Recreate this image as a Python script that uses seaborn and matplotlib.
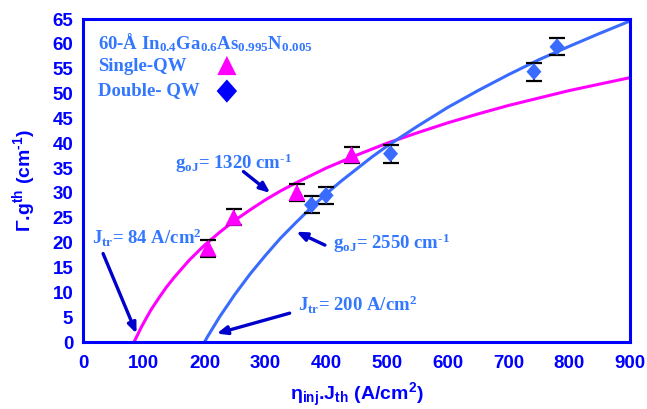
import numpy as np
import pandas as pd
import matplotlib
matplotlib.use("Agg")
import matplotlib.pyplot as plt
import seaborn as sns

# ---- data -------------------------------------------------------------
# fitted gain curves  Γ·g_th = Γ·g_oJ·ln(J/J_tr)
single_fit_j = [84, 88, 92, 96, 105, 112, 125, 137, 150, 175, 200, 225, 250,
                275, 300, 325, 350, 400, 450, 500, 550, 600, 650, 700, 750,
                800, 850, 900]
single_fit_g = [0.0, 1.0, 2.0, 3.0, 5.0, 6.5, 8.9, 11.0, 13.0, 16.5, 19.5,
                22.1, 24.5, 26.6, 28.6, 30.4, 32.0, 35.0, 37.6, 40.0, 42.1,
                44.1, 45.9, 47.6, 49.1, 50.6, 51.9, 53.2]

double_fit_j = [200, 205, 210, 215, 225, 235, 250, 275, 300, 325, 350, 375,
                400, 425, 450, 475, 500, 550, 600, 650, 700, 750, 800, 850, 900]
double_fit_g = [0.0, 1.1, 2.1, 3.1, 5.1, 6.9, 9.6, 13.7, 17.4, 20.9, 24.0,
                27.0, 29.8, 32.4, 34.8, 37.2, 39.4, 43.4, 47.2, 50.6, 53.8,
                56.8, 59.5, 62.1, 64.6]

# measured points with error bars
single_j = [206, 248, 352, 442]
single_g = [18.9, 25.1, 30.1, 37.7]
single_err = [1.7, 1.6, 1.7, 1.6]

double_j = [376, 400, 506, 742, 780]
double_g = [27.6, 29.5, 37.9, 54.4, 59.4]
double_err = [1.7, 1.75, 1.8, 1.8, 1.7]

x_ticks = list(range(0, 901, 100))
y_ticks = list(range(0, 66, 5))

# ---- style ------------------------------------------------------------
sns.set_style("white")
plt.rcParams["font.family"] = ["Liberation Sans", "DejaVu Sans"]
plt.rcParams["mathtext.default"] = "regular"

AX_BLUE = "#0000FF"
TXT_BLUE = "#3377FF"
LINE_BLUE = "#3A6BFF"
MAGENTA = "#FF00FF"
ARROW = "#0000CC"
HY = "\u2010"  # typographic hyphen for the "-1" exponents

fig = plt.figure(figsize=(6.47, 4.09), dpi=100)
ax = fig.add_axes([0.1283, 0.1638, 0.8454, 0.7897])

fit_single = pd.DataFrame({"J": single_fit_j, "g": single_fit_g})
fit_double = pd.DataFrame({"J": double_fit_j, "g": double_fit_g})
sns.lineplot(data=fit_single, x="J", y="g", ax=ax, color=MAGENTA, lw=2.2,
             sort=False, zorder=2)
sns.lineplot(data=fit_double, x="J", y="g", ax=ax, color=LINE_BLUE, lw=2.2,
             sort=False, zorder=2)

# error bars
ax.errorbar(single_j, single_g, yerr=single_err, fmt="none", ecolor="black",
            elinewidth=1.3, capsize=6, capthick=1.6, zorder=3)
ax.errorbar(double_j, double_g, yerr=double_err, fmt="none", ecolor="black",
            elinewidth=1.3, capsize=6, capthick=1.6, zorder=3)

diamond = [(0, 1), (0.88, 0), (0, -1), (-0.88, 0), (0, 1)]
pts_single = pd.DataFrame({"J": single_j, "g": single_g})
pts_double = pd.DataFrame({"J": double_j, "g": double_g})
sns.scatterplot(data=pts_single, x="J", y="g", ax=ax, marker="^", s=150,
                color=MAGENTA, edgecolor="none", zorder=4)
sns.scatterplot(data=pts_double, x="J", y="g", ax=ax, marker=diamond, s=150,
                color=LINE_BLUE, edgecolor="none", zorder=4)

# ---- axes ---------------------------------------------------------------
ax.set_xlim(0, 900)
ax.set_ylim(0, 65)
ax.set_xticks(x_ticks)
ax.set_yticks(y_ticks)
ax.set_xticklabels([str(v) for v in x_ticks])
ax.set_yticklabels([str(v) for v in y_ticks])
for sp in ax.spines.values():
    sp.set_color(AX_BLUE)
    sp.set_linewidth(2.2)
ax.tick_params(axis="both", direction="out", length=5, width=1.8,
               color=AX_BLUE, labelcolor=AX_BLUE, labelsize=13.5)
ax.tick_params(axis="x", pad=4)
ax.tick_params(axis="y", pad=2)
for lab in ax.get_xticklabels() + ax.get_yticklabels():
    lab.set_fontweight("bold")

ax.set_xlabel(r"η$_{inj}$.J$_{th}$ (A/cm$^{2}$)", fontsize=14,
              fontweight="bold", color=AX_BLUE)
ax.set_ylabel(r"Γ.g$^{th}$ (cm$^{" + HY + "1}$)", fontsize=14,
              fontweight="bold", color=AX_BLUE)
ax.xaxis.set_label_coords(0.5, -0.12)
ax.yaxis.set_label_coords(-0.082, 0.5)

# ---- legend block ---------------------------------------------------------
serif = ["Liberation Serif", "DejaVu Serif"]
ax.text(0.0275, 0.926, r"60-Å In$_{0.4}$Ga$_{0.6}$As$_{0.995}$N$_{0.005}$",
        transform=ax.transAxes, family=serif, fontsize=13.5, fontweight="bold",
        color=TXT_BLUE, va="center", ha="left")
ax.text(0.0275, 0.853, "Single-QW", transform=ax.transAxes, family=serif,
        fontsize=13.5, fontweight="bold", color=TXT_BLUE, va="center", ha="left")
ax.text(0.0275, 0.780, "Double- QW", transform=ax.transAxes, family=serif,
        fontsize=13.5, fontweight="bold", color=TXT_BLUE, va="center", ha="left")
ax.scatter([0.263], [0.856], transform=ax.transAxes, marker="^", s=190,
           color=MAGENTA, edgecolor="none", zorder=5, clip_on=False)
ax.scatter([0.263], [0.777], transform=ax.transAxes, marker=diamond, s=280,
           color=AX_BLUE, edgecolor="none", zorder=5, clip_on=False)

# ---- fit annotations -------------------------------------------------------
ann = dict(family=serif, fontsize=13.5, fontweight="bold", color=TXT_BLUE,
           va="center", ha="left")
arrow = dict(arrowstyle="-|>,head_length=0.6,head_width=0.25", color=ARROW,
             lw=2.4, shrinkA=0, shrinkB=0)

ax.text(151, 36.0, r"g$_{oJ}$= 1320 cm$^{" + HY + "1}$", **ann)
ax.annotate("", xy=(308, 30.0), xytext=(264, 34.3), arrowprops=arrow)

ax.text(14, 20.9, r"J$_{tr}$= 84 A/cm$^{2}$", **ann)
ax.annotate("", xy=(88, 1.7), xytext=(33, 17.8), arrowprops=arrow)

ax.text(412, 19.9, r"g$_{oJ}$= 2550 cm$^{" + HY + "1}$", **ann)
ax.annotate("", xy=(351, 22.2), xytext=(398, 19.5), arrowprops=arrow)

ax.text(354, 7.4, r"J$_{tr}$= 200 A/cm$^{2}$", **ann)
ax.annotate("", xy=(220, 1.7), xytext=(340, 5.8), arrowprops=arrow)

fig.savefig("out.png", dpi=100)
